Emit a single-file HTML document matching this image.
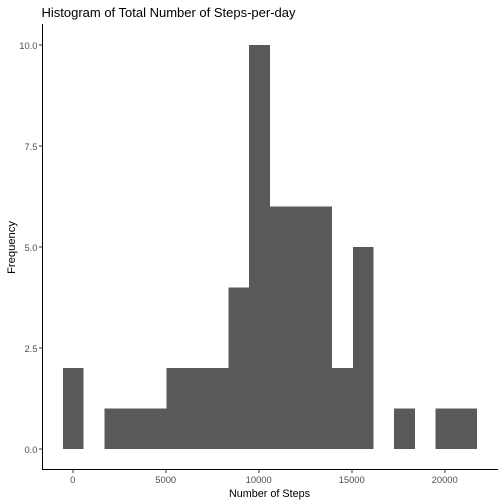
<!DOCTYPE html>
<html>
<head>
<meta charset="utf-8">
<title>Histogram of Total Number of Steps-per-day</title>
<style>
html,body{margin:0;padding:0;background:#fff;}
svg{display:block;}
text{font-family:"Liberation Sans",Arial,sans-serif;}
</style>
</head>
<body>
<svg id="chart" width="504" height="504" viewBox="0 0 504 504" xmlns="http://www.w3.org/2000/svg">
  <rect width="504" height="504" fill="#ffffff"/>
  <g id="bars"></g>
  <g id="x-axis"></g>
  <g id="y-axis"></g>
  <text x="41.5" y="17" font-size="13" textLength="254" lengthAdjust="spacing" fill="#000">Histogram of Total Number of Steps-per-day</text>
  <text x="269.5" y="497" font-size="10.8" fill="#000" text-anchor="middle">Number of Steps</text>
  <text transform="translate(15,247.5) rotate(-90)" font-size="11.2" fill="#000" text-anchor="middle">Frequency</text>
</svg>
<script>
const binCenters = [0, 1113, 2227, 3340, 4453, 5567, 6680, 7793, 8907, 10020, 11133, 12247, 13360, 14473, 15587, 16700, 17813, 18927, 20040, 21153];
const binCounts = [2, 0, 1, 1, 1, 2, 2, 2, 4, 10, 6, 6, 6, 2, 5, 0, 1, 0, 1, 1];
const binWidth = 1113.3;
const xTicks = [0, 5000, 10000, 15000, 20000];
const xTickLabels = ["0", "5000", "10000", "15000", "20000"];
const yTicks = [0, 2.5, 5, 7.5, 10];
const yTickLabels = ["0.0", "2.5", "5.0", "7.5", "10.0"];

const NS = 'http://www.w3.org/2000/svg';
function xScale(v) { return 73.2 + v * 0.0186; }
function yScale(v) { return 449 - v * 40.4; }
function make(tag, attrs, parent) {
  const el = document.createElementNS(NS, tag);
  for (const k in attrs) el.setAttribute(k, attrs[k]);
  parent.appendChild(el);
  return el;
}

const barsGroup = document.getElementById('bars');
binCounts.forEach(function (count, i) {
  if (count <= 0) return;
  const x0 = xScale(binCenters[i] - binWidth / 2);
  const x1 = xScale(binCenters[i] + binWidth / 2);
  const rect = make('rect', {
    x: x0, y: yScale(count), width: x1 - x0, height: yScale(0) - yScale(count),
    fill: '#595959', 'shape-rendering': 'crispEdges'
  }, barsGroup);
  
  
});

const xAxis = document.getElementById('x-axis');
const xLine = make('line', { x1: 42, x2: 498, y1: 469.5, y2: 469.5, stroke: '#000', 'stroke-width': 1 }, xAxis);


xTicks.forEach(function (t, i) {
  const px = xScale(t);
  const tick = make('line', { x1: px, x2: px, y1: 470, y2: 473, stroke: '#333', 'stroke-width': 1, 'shape-rendering': 'crispEdges' }, xAxis);
  
  
  const label = make('text', { x: px - 0.5, y: 483, 'font-size': 9.4, fill: '#4d4d4d', 'text-anchor': 'middle' }, xAxis);
  
  
  label.textContent = xTickLabels[i];
});

const yAxis = document.getElementById('y-axis');
const yLine = make('line', { x1: 42.5, x2: 42.5, y1: 24, y2: 470, stroke: '#000', 'stroke-width': 1 }, yAxis);


yTicks.forEach(function (t, i) {
  const py = yScale(t);
  const tick = make('line', { x1: 39, x2: 42, y1: py, y2: py, stroke: '#333', 'stroke-width': 1, 'shape-rendering': 'crispEdges' }, yAxis);
  
  
  const label = make('text', { x: 37.5, y: py + 4, 'font-size': 9.4, fill: '#4d4d4d', 'text-anchor': 'end' }, yAxis);
  
  
  label.textContent = yTickLabels[i];
});
</script>
</body>
</html>
